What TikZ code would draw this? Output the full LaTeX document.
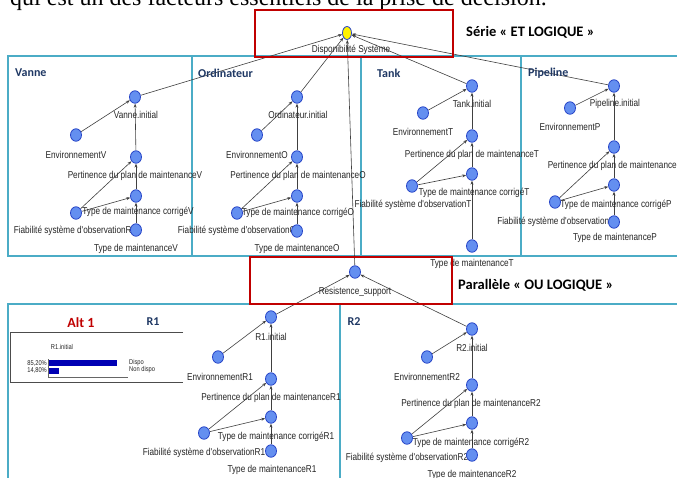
\documentclass[tikz,border=0pt]{standalone}
\usepackage{fontspec}
\setmainfont{Liberation Sans}
\newfontfamily\lblfont[FakeStretch=0.82]{Liberation Sans}
\newfontfamily\titfont{Carlito}
\newfontfamily\serfont{Liberation Serif}
\usetikzlibrary{shapes.geometric,arrows.meta}
\definecolor{nodefill}{RGB}{100,143,240}
\definecolor{nodeline}{RGB}{40,70,200}
\definecolor{panelc}{RGB}{75,172,198}
\definecolor{redbox}{RGB}{192,0,0}
\definecolor{navyc}{RGB}{31,56,100}
\definecolor{barblue}{RGB}{0,0,180}
\pgfdeclarelayer{bg}
\pgfsetlayers{bg,main}
\tikzset{
  bnode/.style={ellipse,draw=nodeline,fill=nodefill,line width=0.8pt,minimum width=11pt,minimum height=12.5pt,inner sep=0pt},
  topnode/.style={ellipse,draw=nodeline,fill=yellow,line width=0.8pt,minimum width=9pt,minimum height=13pt,inner sep=0pt},
  blabel/.style={font=\lblfont\fontsize{10}{10}\selectfont,text=black!85,inner sep=0pt},
  arr/.style={draw=black!75,line width=0.6pt,-{Stealth[length=4pt,width=3pt]}},
  panel/.style={draw=panelc,line width=1.8pt},
  rbox/.style={draw=redbox,line width=1.8pt},
  ptitle/.style={font=\titfont\bfseries\fontsize{12}{12}\selectfont,text=navyc,inner sep=0pt,anchor=west},
  big/.style={font=\titfont\bfseries\fontsize{14.5}{14.5}\selectfont,text=black,inner sep=0pt,anchor=west},
  small/.style={font=\lblfont\fontsize{7}{7}\selectfont,text=black!85,inner sep=0pt}
}
\newcommand\bnn[6]{\node[bnode] (#1) at (#2,#3) {}; \node[blabel] (#1l) at (#5,#6) {#4};}
\newcommand\bnedges[1]{%
  \draw[arr] (#1env) -- (#1ini);
  \draw[arr] (#1per) -- (#1ini);
  \draw[arr] (#1cor) -- (#1per);
  \draw[arr] (#1fia) -- (#1per);
  \draw[arr] (#1fia) -- (#1cor);
  \draw[arr] (#1typ) -- (#1cor);}
\begin{document}
\begin{tikzpicture}[x=1pt,y=-1pt]
\useasboundingbox (0,0) rectangle (677,477);
\clip (0,0) rectangle (677,477);
% panels
\begin{pgfonlayer}{bg}
\fill[white] (0,0) rectangle (677,477);
\draw[panel] (8,56) rectangle (192,256);
\draw[panel] (192,56) rectangle (361,256);
\draw[panel] (361,56) rectangle (521,256);
\draw[panel] (521,56) rectangle (690,256);
\draw[panel] (8,304) rectangle (340,490);
\draw[panel] (340,304) rectangle (690,490);
\draw[panel] (452,256) -- (690,256);
\end{pgfonlayer}
% cut-off text line
\node[font=\serfont\fontsize{24}{24}\selectfont,anchor=base west,inner sep=0pt] (topline) at (10,5) {qui est un des facteurs essentiels de la prise de décision.};
% titles
\node[ptitle] (tv) at (15,73) {Vanne};
\node[ptitle] (to) at (198,73) {Ordinateur};
\node[ptitle] (tt) at (377,73) {Tank};
\node[ptitle] (tp) at (528,73) {Pipeline};
\node[ptitle,anchor=center] (tr1) at (153,322) {R1};
\node[ptitle,anchor=center] (tr2) at (354,322) {R2};
\node[font=\titfont\bfseries\fontsize{14}{14}\selectfont,text=redbox,inner sep=0pt] (alt) at (81,323) {Alt 1};
\node[big] (serie) at (466,32) {Série « ET LOGIQUE »};
\node[big] (para) at (458,285) {Parallèle « OU LOGIQUE »};
% top node
\node[topnode] (D) at (347,33) {};
\node[blabel] (Dl) at (351,50) {Disponibilité Système};
\node[bnode] (R) at (355,272) {};
\node[blabel] (Rl) at (355,292) {Resistence\_support};
% Vanne
\bnn{vini}{135}{97}{Vanne.initial}{136}{115}
\bnn{venv}{76}{135}{EnvironnementV}{76}{155}
\bnn{vper}{136}{157}{Pertinence du plan de maintenanceV}{135}{176}
\bnn{vcor}{136}{196}{Type de maintenance corrigéV}{138}{212}
\bnn{vfia}{76}{213}{Fiabilité système d'observationR1}{75}{231}
\bnn{vtyp}{136}{230}{Type de maintenanceV}{136}{249}
% Ordinateur
\bnn{oini}{297}{97}{Ordinateur.initial}{298}{115}
\bnn{oenv}{257}{135}{EnvironnementO}{257}{155}
\bnn{oper}{297}{157}{Pertinence du plan de maintenanceO}{298}{176}
\bnn{ocor}{297}{196}{Type de maintenance corrigéO}{298}{213}
\bnn{ofia}{237}{213}{Fiabilité système d'observationO}{237}{231}
\bnn{otyp}{297}{231}{Type de maintenanceO}{297}{249}
% Tank
\bnn{tini}{472}{86}{Tank.initial}{472}{104}
\bnn{tenv}{423}{113}{EnvironnementT}{423}{132}
\bnn{tper}{472}{136}{Pertinence du plan de maintenanceT}{472}{155}
\bnn{tcor}{472}{174}{Type de maintenance corrigéT}{474}{193}
\bnn{tfia}{412}{186}{Fiabilité système d'observationT}{413}{205}
\bnn{ttyp}{472}{246}{Type de maintenanceT}{472}{264}
% Pipeline
\bnn{pini}{614}{86}{Pipeline.initial}{615}{104}
\bnn{penv}{570}{108}{EnvironnementP}{570}{127}
\bnn{pper}{614}{147}{Pertinence du plan de maintenanceP}{615}{166}
\bnn{pcor}{614}{185}{Type de maintenance corrigéP}{616}{205}
\bnn{pfia}{555}{202}{Fiabilité système d'observationP}{556}{222}
\bnn{ptyp}{614}{222}{Type de maintenanceP}{615}{238}
% R1
\bnn{aini}{271}{317}{R1.initial}{271}{337}
\bnn{aenv}{218}{357}{EnvironnementR1}{220}{377}
\bnn{aper}{271}{379}{Pertinence du plan de maintenanceR1}{271}{398}
\bnn{acor}{271}{417}{Type de maintenance corrigéR1}{276}{437}
\bnn{afia}{204}{433}{Fiabilité système d'observationR1}{204}{453}
\bnn{atyp}{271}{451}{Type de maintenanceR1}{272}{470}
% R2
\bnn{bini}{472}{329}{R2.initial}{472}{348}
\bnn{benv}{427}{357}{EnvironnementR2}{427}{377}
\bnn{bper}{472}{385}{Pertinence du plan de maintenanceR2}{471}{404}
\bnn{bcor}{472}{423}{Type de maintenance corrigéR2}{471}{443}
\bnn{bfia}{407}{438}{Fiabilité système d'observationR2}{407}{458}
\bnn{btyp}{472}{455}{Type de maintenanceR2}{472}{475}
% edges
\begin{pgfonlayer}{bg}
\bnedges{v}\bnedges{o}\bnedges{t}\bnedges{p}\bnedges{a}\bnedges{b}
\draw[arr] (vini) -- (D);
\draw[arr] (oini) -- (D);
\draw[arr] (tini) -- (D);
\draw[arr] (pini) -- (D);
\draw[arr] (R) -- (D);
\draw[arr] (aini) -- (R);
\draw[arr] (bini) -- (R);
\end{pgfonlayer}
% monitor inset
\draw[black!70,line width=0.6pt] (183,332) -- (10,332) -- (10,382) -- (183,382);
\node[small] (mt) at (62,347) {R1.initial};
\node[small,anchor=east] (m1) at (47,363) {85,20\%};
\node[small,anchor=east] (m2) at (47,370) {14,80\%};
\fill[barblue] (48,360) rectangle (117,366);
\fill[barblue] (48,368) rectangle (59,374);
\draw[black!60,line width=0.5pt] (48,359) -- (48,377) -- (128,377);
\node[small,anchor=west] (d1) at (129,363) {Dispo};
\node[small,anchor=west] (d2) at (129,370) {Non dispo};
% red boxes
\draw[rbox] (255,10) rectangle (453,57);
\draw[rbox] (250,257) rectangle (452,304);
\end{tikzpicture}
\end{document}
